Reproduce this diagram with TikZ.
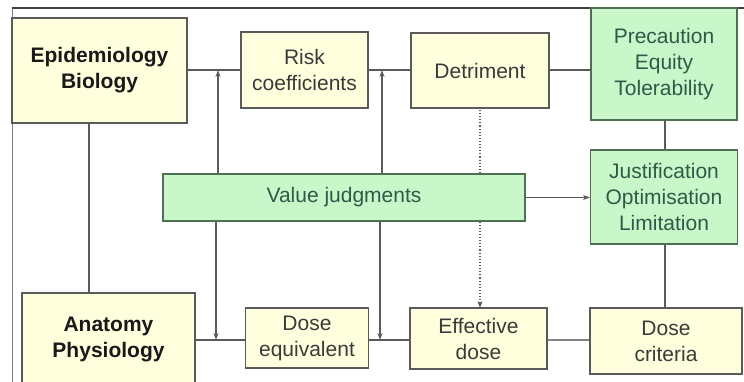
\documentclass[tikz,border=0pt]{standalone}
\usepackage{fontspec}
\setmainfont{Liberation Sans}
\usetikzlibrary{arrows.meta}
\definecolor{ylw}{HTML}{FFFFDE}
\definecolor{grn}{HTML}{C9F7C9}
\definecolor{lin}{HTML}{5A5A5A}
\definecolor{gbd}{HTML}{4F6F55}
\definecolor{gtx}{HTML}{2F5A48}
\definecolor{ytx}{HTML}{3A3A3A}
\tikzset{
  ybox/.style={draw=lin, line width=1.2pt, fill=ylw, inner sep=0pt, align=center,
    text=ytx, font=\fontsize{21}{26}\selectfont},
  gbox/.style={draw=gbd, line width=1.2pt, fill=grn, inner sep=0pt, align=center,
    text=gtx, font=\fontsize{21}{26}\selectfont},
  bbox/.style={ybox, text=black!90, font=\fontsize{21}{26}\selectfont\bfseries},
  conn/.style={draw=lin, line width=1.1pt},
  arr/.style={conn, -{Stealth[length=7pt,width=5pt]}},
}
\begin{document}
\begin{tikzpicture}[x=1pt,y=-1pt]
\useasboundingbox (0,0) rectangle (744,382);
\fill[white] (0,0) rectangle (744,382);
% frame
\draw[lin!80, line width=1pt] (12,382) coordinate (fb) -- (12,8) coordinate (fc);
\draw[black!75, line width=2pt] (12,8) -- (744,8) coordinate (fr);
% connectors behind boxes
\draw[conn, dotted, line width=1.3pt, -{Stealth[length=7pt,width=5pt]}] (480,110) coordinate (dt) -- (480,308) coordinate (et);
% nodes
\node[bbox, minimum width=175pt, minimum height=105pt] (epi) at (99.5,70.5) {Epidemiology\\Biology};
\node[ybox, minimum width=127pt, minimum height=76pt] (risk) at (304.5,70) {Risk\\coefficients};
\node[ybox, minimum width=138pt, minimum height=75pt] (det) at (480,70.5) {Detriment};
\node[gbox, minimum width=146pt, minimum height=112pt] (prec) at (664,64) {Precaution\\Equity\\Tolerability};
\node[gbox, minimum width=362pt, minimum height=47pt] (vj) at (344,197.5) {Value judgments};
\node[gbox, minimum width=147pt, minimum height=94pt] (just) at (664,197) {Justification\\Optimisation\\Limitation};
\node[bbox, minimum width=173pt, minimum height=92pt] (anat) at (108.5,339) {Anatomy\\Physiology};
\node[ybox, minimum width=123pt, minimum height=60pt] (deq) at (307,338) {Dose\\equivalent};
\node[ybox, minimum width=137pt, minimum height=61pt] (eff) at (478.5,338.5) {Effective\\dose};
\node[ybox, minimum width=152pt, minimum height=66pt] (crit) at (666,341) {Dose\\criteria};
% horizontal links
\draw[conn] (epi.east |- 0,70) -- (risk.west |- 0,70);
\draw[conn] (risk.east |- 0,70) -- (det.west |- 0,70);
\draw[conn] (det.east |- 0,70) -- (prec.west |- 0,70);
\draw[conn] (anat.east |- 0,340) -- (deq.west |- 0,340);
\draw[conn] (deq.east |- 0,340) -- (eff.west |- 0,340);
\draw[conn, line width=2.2pt, lin!75] (eff.east |- 0,340) -- (crit.west |- 0,340);
% vertical links
\draw[conn] (epi.south -| 89,0) -- (anat.north -| 89,0);
\draw[conn] (prec.south -| 665,0) -- (just.north -| 665,0);
\draw[conn] (just.south -| 665,0) -- (crit.north -| 665,0);
% value judgments arrows
\draw[arr] (vj.north -| 218,0) -- (218,70) coordinate (u1);
\draw[arr] (vj.north -| 382,0) -- (382,70) coordinate (u2);
\draw[arr] (vj.south -| 216,0) -- (216,340) coordinate (d1);
\draw[arr] (vj.south -| 380,0) -- (380,340) coordinate (d2);
\draw[arr] (vj.east) -- (just.west |- vj.east);
\end{tikzpicture}
\end{document}
